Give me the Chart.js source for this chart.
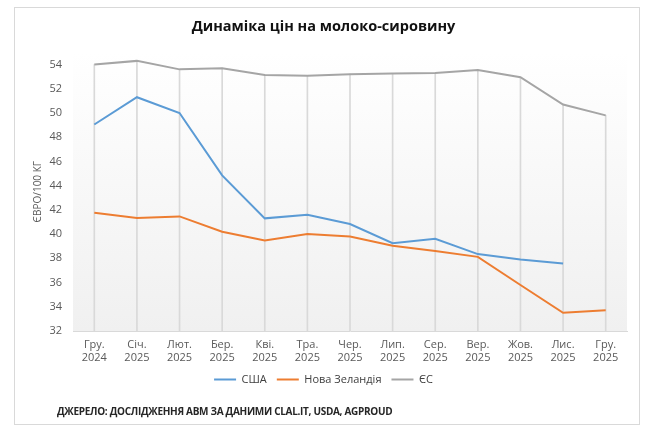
<!DOCTYPE html>
<html>
<head>
<meta charset="utf-8">
<script src="https://cdn.jsdelivr.net/npm/chart.js@4.4.1/dist/chart.umd.min.js"></script>
<style>
  body { margin: 0; background: #fff; }
  #card { position: absolute; left: 14px; top: 7px; width: 626px; height: 418px; border: 1px solid #d9d9d9; box-sizing: border-box; }
  #wrap { position: absolute; left: 0; top: 0; width: 650px; height: 436px; }
  #source { position: absolute; left: 57px; top: 404px; font: bold 10px "Open Sans", sans-serif; color: #262626; letter-spacing: -0.3px; }
</style>
</head>
<body>
<div id="card"></div>
<div id="wrap"><canvas id="myChart"></canvas></div>
<div id="source">ДЖЕРЕЛО: ДОСЛІДЖЕННЯ АВМ ЗА ДАНИМИ CLAL.IT, USDA, AGPROUD</div>
<script>
const months = ['Гру.', 'Січ.', 'Лют.', 'Бер.', 'Кві.', 'Тра.', 'Чер.', 'Лип.', 'Сер.', 'Вер.', 'Жов.', 'Лис.', 'Гру.'];
const years = ['2024', '2025', '2025', '2025', '2025', '2025', '2025', '2025', '2025', '2025', '2025', '2025', '2025'];
const usa = [49.05, 51.3, 50.0, 44.85, 41.3, 41.6, 40.83, 39.25, 39.62, 38.35, 37.9, 37.57, null];
const newZealand = [41.76, 41.32, 41.46, 40.2, 39.47, 40.0, 39.8, 39.03, 38.6, 38.12, 35.8, 33.5, 33.72];
const eu = [54.0, 54.3, 53.6, 53.7, 53.14, 53.08, 53.2, 53.25, 53.3, 53.55, 52.95, 50.7, 49.8];
const yTicks = [32, 34, 36, 38, 40, 42, 44, 46, 48, 50, 52, 54];

// drop lines: from the axis up to the highest point in each category
const dropTop = months.map((m, i) => Math.max(...[usa[i], newZealand[i], eu[i]].filter(v => v !== null)));

const plotBg = {
  id: 'plotBg',
  beforeDraw(chart) {
    const {ctx, chartArea: a} = chart;
    const g = ctx.createLinearGradient(0, a.top, 0, a.bottom);
    g.addColorStop(0, '#ffffff');
    g.addColorStop(1, '#f0f0f0');
    ctx.save();
    ctx.fillStyle = g;
    ctx.fillRect(a.left, a.top, a.right - a.left, a.bottom - a.top);
    ctx.restore();
  }
};

const ctx = document.getElementById('myChart').getContext('2d');
const myChart = new Chart(ctx, {
  type: 'line',
  data: {
    labels: months.map((m, i) => [m, years[i]]),
    datasets: [
      { label: 'США', data: usa, borderColor: '#5B9BD5', backgroundColor: '#5B9BD5', borderWidth: 2, pointRadius: 0, order: 1 },
      { label: 'Нова Зеландія', data: newZealand, borderColor: '#ED7D31', backgroundColor: '#ED7D31', borderWidth: 2, pointRadius: 0, order: 2 },
      { label: 'ЄС', data: eu, borderColor: '#A5A5A5', backgroundColor: '#A5A5A5', borderWidth: 2, pointRadius: 0, order: 3 },
      { type: 'bar', label: 'drop', data: dropTop, backgroundColor: '#d9d9d9', barThickness: 1, order: 10 }
    ]
  },
  options: {
    responsive: true,
    maintainAspectRatio: false,
    animation: false,
    layout: { padding: { left: 20, right: 23, top: 0, bottom: 41 } },
    plugins: {
      tooltip: { enabled: false },
      title: {
        display: true,
        text: 'Динаміка цін на молоко-сировину',
        color: '#111',
        font: { family: 'Open Sans', size: 14.5, weight: 'bold' },
        padding: { top: 18, bottom: 17 }
      },
      legend: {
        position: 'bottom',
        labels: {
          usePointStyle: true,
          pointStyle: 'line',
          pointStyleWidth: 22,
          color: '#404040',
          font: { family: 'Open Sans', size: 11 },
          padding: 10,
          filter: item => item.text !== 'drop'
        }
      }
    },
    scales: {
      x: {
        offset: true,
        afterFit: s => { s.height = 33; },
        grid: { display: false, offset: false },
        border: { color: '#d9d9d9' },
        ticks: { color: '#595959', font: { family: 'Open Sans', size: 11, lineHeight: 1.15 }, padding: 0, maxRotation: 0 }
      },
      y: {
        min: 32,
        max: 55,
        afterBuildTicks: s => { s.ticks = yTicks.map(v => ({ value: v })); },
        afterFit: s => { s.width = 53; },
        grid: { display: false },
        border: { display: false },
        ticks: { color: '#595959', font: { family: 'Open Sans', size: 11 }, padding: 3 },
        title: {
          display: true,
          text: 'ЄВРО/100 КГ',
          color: '#595959',
          font: { family: 'Open Sans', size: 10 },
          padding: { top: 12, bottom: 0 }
        }
      }
    }
  },
  plugins: [plotBg]
});
</script>
</body>
</html>
